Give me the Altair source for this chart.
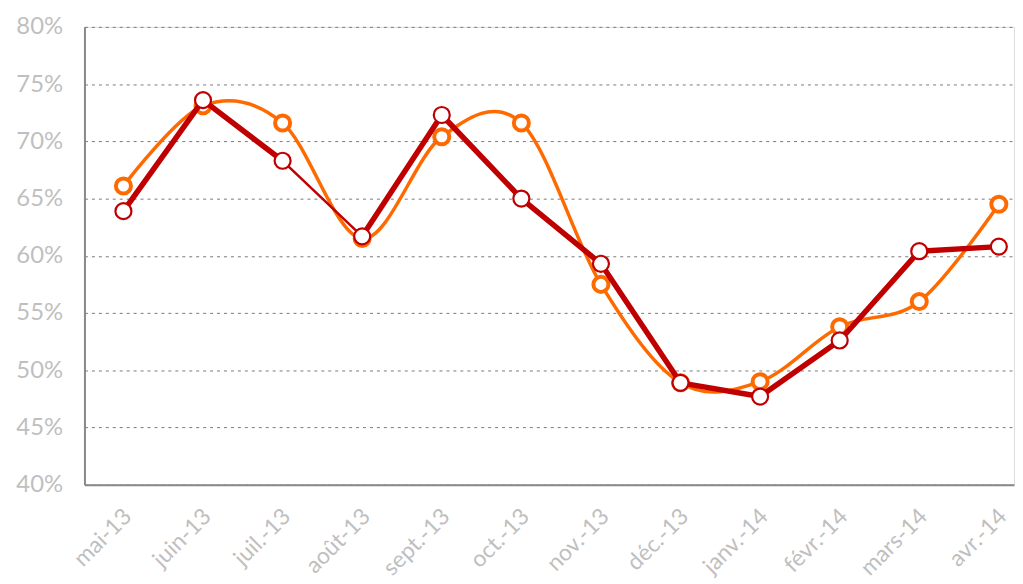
import altair as alt
import pandas as pd

months = ["mai-13", "juin-13", "juil.-13", "août-13", "sept.-13", "oct.-13",
          "nov.-13", "déc.-13", "janv.-14", "févr.-14", "mars-14", "avr.-14"]
orange_vals = [0.661, 0.731, 0.716, 0.615, 0.704, 0.716, 0.575, 0.489, 0.490, 0.538, 0.560, 0.645]
red_vals = [0.639, 0.736, 0.683, 0.617, 0.723, 0.650, 0.593, 0.489, 0.477, 0.526, 0.604, 0.608]
y_ticks = [0.40, 0.45, 0.50, 0.55, 0.60, 0.65, 0.70, 0.75, 0.80]

# style: red segment starting at this month is drawn thinner
thin_starts = ["juil.-13"]

ORANGE = "#ff6a00"
RED = "#c00000"
LABEL = "#bfbfbf"

df = pd.DataFrame({"mois": months, "orange": orange_vals, "rouge": red_vals})
seg = pd.DataFrame({
    "m1": months[:-1], "m2": months[1:],
    "v1": red_vals[:-1], "v2": red_vals[1:],
})
seg["w"] = [2.5 if m in thin_starts else 5.5 for m in seg["m1"]]

xscale = alt.Scale(type="point", domain=months, padding=0.34, align=0.72)
yscale = alt.Scale(domain=[0.4, 0.8], nice=False, zero=False)

xaxis = alt.Axis(title=None, labelAngle=-45, labelFontSize=23, labelColor=LABEL,
                 labelFont="Lato", ticks=False, domainColor="#888888", domainWidth=2,
                 labelPadding=28, labelOffset=4, grid=False, labelAlign="right",
                 labelBaseline="middle")
yaxis = alt.Axis(title=None, format=".0%", values=y_ticks, labelFontSize=24,
                 labelColor=LABEL, labelFont="Lato", ticks=False, domainColor="#888888",
                 domainWidth=2, labelPadding=22, grid=True, gridColor="#7a7a7a",
                 gridDash=[3, 4], gridWidth=1)

base = alt.Chart(df)

orange_line = base.mark_line(color=ORANGE, strokeWidth=3.5, interpolate="cardinal").encode(
    x=alt.X("mois:N", scale=xscale, axis=xaxis, sort=months),
    y=alt.Y("orange:Q", scale=yscale, axis=yaxis),
)
orange_pts = base.mark_point(shape="circle", filled=False, fill="white", fillOpacity=1,
                             stroke=ORANGE, strokeWidth=4, size=230, opacity=1).encode(
    x=alt.X("mois:N", scale=xscale, sort=months),
    y=alt.Y("orange:Q", scale=yscale),
)
red_segs = alt.Chart(seg).mark_rule(color=RED, strokeCap="round").encode(
    x=alt.X("m1:N", scale=xscale, sort=months),
    x2="m2:N",
    y=alt.Y("v1:Q", scale=yscale),
    y2="v2:Q",
    strokeWidth=alt.StrokeWidth("w:Q", scale=None, legend=None),
)
red_pts = base.mark_point(shape="circle", filled=False, fill="white", fillOpacity=1,
                          stroke=RED, strokeWidth=2.2, size=260, opacity=1).encode(
    x=alt.X("mois:N", scale=xscale, sort=months),
    y=alt.Y("rouge:Q", scale=yscale),
)

chart = alt.layer(orange_line, orange_pts, red_segs, red_pts).properties(
    width=936, height=461,
    padding={"left": 7, "top": 5, "right": 0, "bottom": 0},
).configure_view(stroke=None).configure(background="white")

chart.save("out.html", embed_options={"renderer": "svg", "actions": False})
